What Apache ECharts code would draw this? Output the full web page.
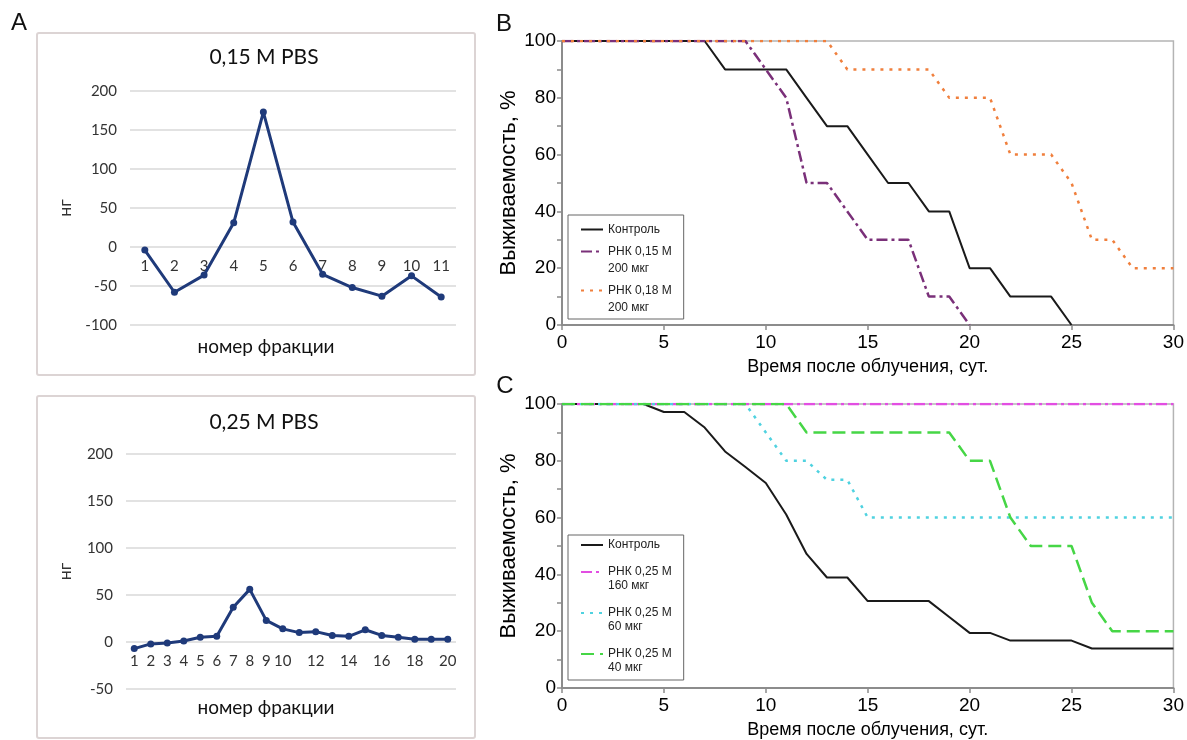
<!DOCTYPE html>
<html>
<head>
<meta charset="utf-8">
<script src="https://cdn.jsdelivr.net/npm/echarts@6/dist/echarts.min.js"></script>
<style>
html,body{margin:0;padding:0;background:#fff;}
#chart{width:1187px;height:740px;}
</style>
</head>
<body>
<div id="chart"></div>
<script>
// ---- Panel A data ----
const aTopCats = ['1','2','3','4','5','6','7','8','9','10','11'];
const aTopValues = [-4, -58, -36, 31, 173, 32, -35, -52, -63, -37, -64];
const aBotCats = ['1','2','3','4','5','6','7','8','9','10','11','12','13','14','15','16','17','18','19','20'];
const aBotValues = [-7, -2, -1, 1, 5, 6, 37, 56, 23, 14, 10, 11, 7, 6, 13, 7, 5, 3, 3, 3];

// ---- Panels B & C: days after irradiation ----
const days = [0,1,2,3,4,5,6,7,8,9,10,11,12,13,14,15,16,17,18,19,20,21,22,23,24,25,26,27,28,29,30];
// Panel B survival, %
const bControl = [100,100,100,100,100,100,100,100,90,90,90,90,80,70,70,60,50,50,40,40,20,20,10,10,10,0,null,null,null,null,null];
const bRna015 = [100,100,100,100,100,100,100,100,100,100,90,80,50,50,40,30,30,30,10,10,0,null,null,null,null,null,null,null,null,null,null];
const bRna018 = [100,100,100,100,100,100,100,100,100,100,100,100,100,100,90,90,90,90,90,80,80,80,60,60,60,50,30,30,20,20,20];
// Panel C survival, %
const cControl = [100,100,100,100,100,97.2,97.2,91.7,83.3,77.8,72.2,61.1,47.2,38.9,38.9,30.6,30.6,30.6,30.6,25,19.4,19.4,16.7,16.7,16.7,16.7,13.9,13.9,13.9,13.9,13.9];
const cRna160 = [100,100,100,100,100,100,100,100,100,100,100,100,100,100,100,100,100,100,100,100,100,100,100,100,100,100,100,100,100,100,100];
const cRna60 = [100,100,100,100,100,100,100,100,100,100,90,80,80,73.3,73.3,60,60,60,60,60,60,60,60,60,60,60,60,60,60,60,60];
const cRna40 = [100,100,100,100,100,100,100,100,100,100,100,100,90,90,90,90,90,90,90,90,80,80,60,50,50,50,30,20,20,20,20];

const nameB1 = 'Контроль';
const nameB2 = 'РНК 0,15 М\n200 мкг';
const nameB3 = 'РНК 0,18 М\n200 мкг';
const nameC1 = 'Контроль ';
const nameC2 = 'РНК 0,25 М\n160 мкг';
const nameC3 = 'РНК 0,25 М\n60 мкг';
const nameC4 = 'РНК 0,25 М\n40 мкг';

function pairs(arr) {
  return days.map((d, i) => [d, arr[i]]).filter(p => p[1] !== null);
}

const AFONT = 'Lato, "Open Sans", sans-serif';
const BFONT = '"Liberation Sans", Arial, sans-serif';

const chart = echarts.init(document.getElementById('chart'), null, {renderer: 'canvas'});

function survXAxis(gi) {
  return {
    gridIndex: gi, type: 'value', min: 0, max: 30, interval: 5,
    name: 'Время после облучения, сут.', nameLocation: 'middle', nameGap: 33, nameMoveOverlap: false,
    nameTextStyle: {fontSize: 18, fontFamily: BFONT, color: '#000'},
    axisLine: {onZero: false, lineStyle: {color: '#8c8c8c', width: 2}},
    axisTick: {show: true, length: 5, lineStyle: {color: '#8c8c8c', width: 1.5}},
    axisLabel: {fontSize: 19, fontFamily: BFONT, color: '#000', margin: 8},
    splitLine: {show: false}
  };
}
function survYAxis(gi) {
  return {
    gridIndex: gi, type: 'value', min: 0, max: 100, interval: 10,
    name: 'Выживаемость, %', nameLocation: 'middle', nameGap: 42, nameMoveOverlap: false,
    nameTextStyle: {fontSize: 22, fontFamily: BFONT, color: '#000'},
    axisLine: {show: true, onZero: false, lineStyle: {color: '#8c8c8c', width: 2}},
    axisTick: {show: true, length: 5, lineStyle: {color: '#8c8c8c', width: 1.5}},
    axisLabel: {fontSize: 19, fontFamily: BFONT, color: '#000', margin: 6,
      formatter: v => (v % 20 === 0 ? String(v) : '')},
    splitLine: {show: false}
  };
}
function survLine(name, gi, arr, color, type, width) {
  return {
    name: name, type: 'line', xAxisIndex: gi, yAxisIndex: gi,
    data: pairs(arr), symbol: 'none', smooth: false,
    lineStyle: {color: color, width: width, type: type},
    itemStyle: {color: color}
  };
}
function legendFmt(n) { return n.indexOf('\n') >= 0 ? ' \n' + n : n.trim(); }

const option = {
  animation: false,
  backgroundColor: '#ffffff',
  graphic: [
    {type: 'rect', z: -10, shape: {x: 37, y: 33, width: 438, height: 342, r: 2},
     style: {fill: '#fff', stroke: '#dcd4d4', lineWidth: 2}},
    {type: 'rect', z: -10, shape: {x: 37, y: 396, width: 438, height: 342, r: 2},
     style: {fill: '#fff', stroke: '#dcd4d4', lineWidth: 2}},
    {type: 'text', x: 19, y: 23, style: {text: 'A', font: '24px ' + BFONT, fill: '#111', align: 'center', verticalAlign: 'middle'}},
    {type: 'text', x: 504, y: 24, style: {text: 'B', font: '24px ' + BFONT, fill: '#111', align: 'center', verticalAlign: 'middle'}},
    {type: 'text', x: 505, y: 386, style: {text: 'C', font: '24px ' + BFONT, fill: '#111', align: 'center', verticalAlign: 'middle'}},
    {type: 'text', x: 264, y: 57, style: {text: '0,15 M PBS', font: '21px ' + AFONT, fill: '#111', align: 'center', verticalAlign: 'middle'}},
    {type: 'text', x: 264, y: 422, style: {text: '0,25 M PBS', font: '21px ' + AFONT, fill: '#111', align: 'center', verticalAlign: 'middle'}},
    {type: 'text', x: 266, y: 347, style: {text: 'номер фракции', font: '19px ' + AFONT, fill: '#111', align: 'center', verticalAlign: 'middle'}},
    {type: 'text', x: 266, y: 708, style: {text: 'номер фракции', font: '19px ' + AFONT, fill: '#111', align: 'center', verticalAlign: 'middle'}}
  ],
  grid: [
    {left: 130, top: 91, width: 326, height: 234},
    {left: 126, top: 454, width: 330, height: 235},
    {left: 562, top: 41, width: 614, height: 284, show: true, borderColor: '#b4b4b4', borderWidth: 1.5},
    {left: 562, top: 404, width: 614, height: 284, show: true, borderColor: '#b4b4b4', borderWidth: 1.5}
  ],
  xAxis: [
    // category labels sit just below the zero line, as in the original spreadsheet chart
    {gridIndex: 0, type: 'category', data: aTopCats, boundaryGap: true,
     axisLine: {show: false, onZero: false},
     axisTick: {show: false},
     axisLabel: {fontSize: 15, fontFamily: AFONT, color: '#333', margin: -66}},
    {gridIndex: 1, type: 'category', data: aBotCats, boundaryGap: true,
     axisLine: {show: false, onZero: false},
     axisTick: {show: false},
     axisLabel: {fontSize: 15, fontFamily: AFONT, color: '#333', margin: -35,
       interval: (idx) => idx < 10 || idx % 2 === 1}},
    survXAxis(2),
    survXAxis(3)
  ],
  yAxis: [
    {gridIndex: 0, type: 'value', min: -100, max: 200, interval: 50,
     name: 'нг', nameLocation: 'middle', nameGap: 56, nameMoveOverlap: false,
     nameTextStyle: {fontSize: 18, fontFamily: AFONT, color: '#333'},
     axisLine: {show: false}, axisTick: {show: false},
     axisLabel: {fontSize: 15, fontFamily: AFONT, color: '#333', margin: 13},
     splitLine: {lineStyle: {color: '#d9d9d9', width: 1.5}}},
    {gridIndex: 1, type: 'value', min: -50, max: 200, interval: 50,
     name: 'нг', nameLocation: 'middle', nameGap: 52, nameMoveOverlap: false,
     nameTextStyle: {fontSize: 18, fontFamily: AFONT, color: '#333'},
     axisLine: {show: false}, axisTick: {show: false},
     axisLabel: {fontSize: 15, fontFamily: AFONT, color: '#333', margin: 13},
     splitLine: {lineStyle: {color: '#d9d9d9', width: 1.5}}},
    survYAxis(2),
    survYAxis(3)
  ],
  legend: [
    {orient: 'vertical', left: 568, top: 215, selectedMode: false,
     data: [nameB1, nameB2, nameB3], formatter: legendFmt,
     itemWidth: 22, itemHeight: 10, itemGap: -12,
     itemStyle: {color: 'rgba(0,0,0,0)', borderWidth: 0},
     padding: [6, 12, 3, 12], borderColor: '#666', borderWidth: 1, backgroundColor: '#fff',
     textStyle: {fontSize: 12, fontFamily: BFONT, color: '#222', lineHeight: 17}},
    {orient: 'vertical', left: 568, top: 535, selectedMode: false,
     data: [nameC1, nameC2, nameC3, nameC4], formatter: legendFmt,
     itemWidth: 22, itemHeight: 10, itemGap: -1,
     itemStyle: {color: 'rgba(0,0,0,0)', borderWidth: 0},
     padding: [3, 12, 5, 12], borderColor: '#666', borderWidth: 1, backgroundColor: '#fff',
     textStyle: {fontSize: 12, fontFamily: BFONT, color: '#222', lineHeight: 14}}
  ],
  series: [
    {name: 'A1', type: 'line', xAxisIndex: 0, yAxisIndex: 0, data: aTopValues,
     symbol: 'circle', symbolSize: 7, lineStyle: {color: '#1f3a7a', width: 3}, itemStyle: {color: '#1f3a7a'}},
    {name: 'A2', type: 'line', xAxisIndex: 1, yAxisIndex: 1, data: aBotValues,
     symbol: 'circle', symbolSize: 7, lineStyle: {color: '#1f3a7a', width: 3}, itemStyle: {color: '#1f3a7a'}},
    survLine(nameB1, 2, bControl, '#1a1a1a', 'solid', 2),
    survLine(nameB2, 2, bRna015, '#7a3079', [11, 4, 3, 4], 2.5),
    survLine(nameB3, 2, bRna018, '#f07f3c', [3, 6], 2.5),
    survLine(nameC1, 3, cControl, '#1a1a1a', 'solid', 2),
    survLine(nameC2, 3, cRna160, '#e24ee2', [11, 4, 3, 4], 2.5),
    survLine(nameC3, 3, cRna60, '#4fd2e0', [3, 6], 2.5),
    survLine(nameC4, 3, cRna40, '#46d646', [13, 6], 2.5)
  ]
};
chart.setOption(option);
</script>
</body>
</html>
